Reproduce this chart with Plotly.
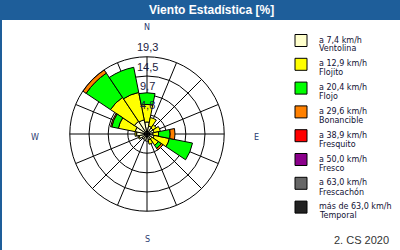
import plotly.graph_objects as go

# ---------------- data ----------------
directions = ["N", "NNE", "NE", "ENE", "E", "ESE", "SE", "SSE",
              "S", "SSW", "SW", "WSW", "W", "WNW", "NW", "NNW"]

series_names = ["Ventolina", "Flojito", "Flojo", "Bonancible",
                "Fresquito", "Fresco", "Frescachón", "Temporal"]
series_ranges = ["a 7,4 km/h", "a 12,9 km/h", "a 20,4 km/h", "a 29,6 km/h",
                 "a 38,9 km/h", "a 50,0 km/h", "a 63,0 km/h", "más de 63,0 km/h"]
series_colors = ["#ffffcc", "#ffff00", "#00ff00", "#ff8000",
                 "#ff0000", "#8b008b", "#666666", "#222222"]

ventolina  = [3.0, 2.0, 1.8, 1.8, 1.5, 1.8, 1.5, 1.5, 1.8, 1.6, 1.4, 2.0, 2.6, 3.0, 3.8, 3.6]
flojito    = [4.4, 2.2, 1.0, 1.6, 1.4, 3.9, 1.9, 1.1, 0.0, 0.0, 0.0, 0.3, 0.4, 4.3, 7.2, 7.0]
flojo      = [2.9, 0.0, 0.0, 0.0, 2.9, 5.9, 0.9, 0.0, 0.0, 0.0, 0.0, 0.0, 0.0, 1.7, 7.3, 6.4]
bonancible = [0.0, 0.0, 0.0, 0.0, 1.2, 0.0, 0.5, 0.0, 0.0, 0.0, 0.0, 0.0, 0.0, 0.3, 0.95, 0.0]
fresquito  = [0.0] * 16
fresco     = [0.0] * 16
frescachon = [0.0] * 16
temporal   = [0.0] * 16

series_values = [ventolina, flojito, flojo, bonancible,
                 fresquito, fresco, frescachon, temporal]

ring_values = [4.8, 9.7, 14.5, 19.3]
ring_labels = ["4,8", "9,7", "14,5", "19,3"]

title_text = "Viento Estadística [%]"
footer_text = "2. CS 2020"

# ---------------- figure ----------------
W, H = 400, 250
def px(x):
    return x / W
def py(y):
    return 1 - y / H

cx, cy, R = 147, 134, 77.2
rmax = ring_values[-1]

fig = go.Figure()
for name, vals, col in zip(series_names, series_values, series_colors):
    if sum(vals) == 0:
        continue
    fig.add_trace(go.Barpolar(
        r=[v if v > 0 else None for v in vals],
        theta=directions,
        name=name,
        marker=dict(color=col, line=dict(color="black", width=1)),
        showlegend=False,
    ))

fig.update_layout(
    width=W, height=H,
    margin=dict(l=0, r=0, t=0, b=0),
    paper_bgcolor="white",
    plot_bgcolor="white",
    showlegend=False,
    polar=dict(
        domain=dict(x=[px(cx - R), px(cx + R)], y=[py(cy + R), py(cy - R)]),
        bgcolor="white",
        barmode="stack",
        bargap=0,
        radialaxis=dict(range=[0, rmax], tickvals=ring_values, showticklabels=False,
                        ticks="", showline=False, gridcolor="black", gridwidth=1),
        angularaxis=dict(type="category", categoryarray=directions, rotation=90,
                         direction="clockwise", showticklabels=False, ticks="",
                         gridcolor="black", gridwidth=1, linecolor="black", linewidth=1),
    ),
)

shapes = []
# title bar
shapes.append(dict(type="rect", xref="paper", yref="paper", x0=0, x1=1,
                   y0=py(20), y1=1, fillcolor="#1e5e9a", line=dict(width=0)))
# left border
shapes.append(dict(type="rect", xref="paper", yref="paper", x0=0, x1=px(2),
                   y0=0, y1=1, fillcolor="#1e5e9a", line=dict(width=0)))

annotations = []
annotations.append(dict(text=f"<b>{title_text}</b>", x=px(211), y=py(10), xref="paper", yref="paper",
                        showarrow=False, xanchor="center", yanchor="middle",
                        font=dict(family="Liberation Sans", size=12, color="white")))

# ring labels
for v, lab in zip(ring_values, ring_labels):
    ry = cy - v / rmax * R - 9.5
    annotations.append(dict(text=lab, x=px(cx), y=py(ry), xref="paper", yref="paper",
                            showarrow=False, xanchor="center", yanchor="middle",
                            font=dict(family="Liberation Sans", size=11, color="#1a1a40")))

# compass labels
for lab, (x, y) in zip(["N", "E", "S", "W"], [(147, 28), (256, 137), (147, 239), (35, 137)]):
    annotations.append(dict(text=lab, x=px(x), y=py(y), xref="paper", yref="paper",
                            showarrow=False, xanchor="center", yanchor="middle",
                            font=dict(family="DejaVu Sans", size=8, color="#2a3a70")))

# legend
for i, (rng, name, col) in enumerate(zip(series_ranges, series_names, series_colors)):
    top = 34.5 + 23.8 * i
    shapes.append(dict(type="rect", xref="paper", yref="paper",
                       x0=px(295), x1=px(307), y0=py(top + 12), y1=py(top),
                       fillcolor=col, line=dict(color="black", width=1)))
    annotations.append(dict(text=rng, x=px(317), y=py(top + 5.5), xref="paper", yref="paper",
                            showarrow=False, xanchor="left", yanchor="middle",
                            font=dict(family="DejaVu Sans", size=8, color="#111133")))
    annotations.append(dict(text=name, x=px(317), y=py(top + 14.5), xref="paper", yref="paper",
                            showarrow=False, xanchor="left", yanchor="middle",
                            font=dict(family="DejaVu Sans", size=8, color="#111133")))

annotations.append(dict(text=footer_text, x=px(391), y=py(240), xref="paper", yref="paper",
                        showarrow=False, xanchor="right", yanchor="middle",
                        font=dict(family="Liberation Sans", size=11, color="#333333")))

fig.update_layout(shapes=shapes, annotations=annotations)
fig.write_html("out.html")
